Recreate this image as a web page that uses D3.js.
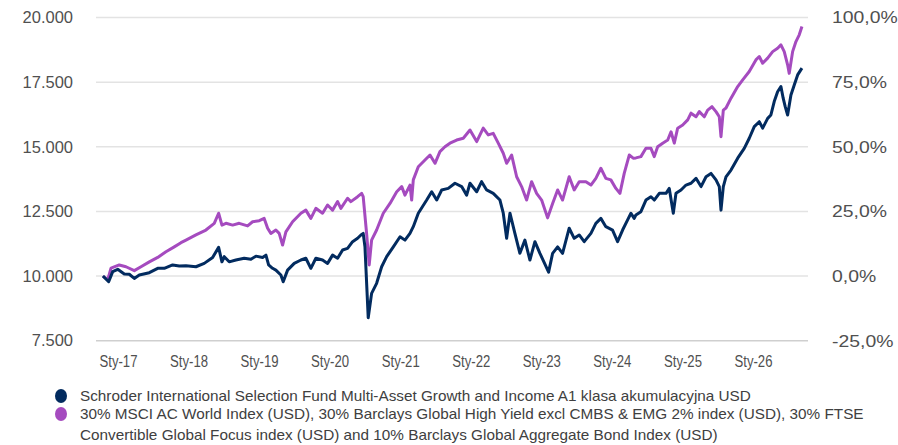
<!DOCTYPE html>
<html><head><meta charset="utf-8">
<script src="https://cdn.jsdelivr.net/npm/d3@7"></script>
<style>
html,body{margin:0;padding:0;background:#fff;}
svg{display:block;font-family:"Liberation Sans",Arial,sans-serif;}
</style></head>
<body><svg id="c" width="898" height="445"></svg>
<script>
// ---- data (decimal years, index values in USD, start = 10 000) ----
const fundT = [2016.787,2016.868,2016.925,2016.996,2017.089,2017.160,2017.231,2017.302,2017.444,2017.563,2017.656,2017.775,2017.869,2017.964,
2018.105,2018.223,2018.342,2018.427,2018.474,2018.507,2018.577,2018.672,2018.790,2018.885,2018.956,
2019.051,2019.098,2019.136,2019.192,2019.239,2019.310,2019.343,2019.405,2019.499,2019.594,2019.664,2019.735,2019.806,2019.901,2019.972,
2020.043,2020.114,2020.185,2020.255,2020.326,2020.397,2020.444,2020.476,2020.501,2020.547,2020.595,2020.666,2020.737,2020.808,2020.902,2020.997,
2021.067,2021.138,2021.185,2021.256,2021.375,2021.446,2021.517,2021.588,2021.681,2021.776,2021.871,2021.942,2021.989,
2022.084,2022.154,2022.225,2022.319,2022.414,2022.461,2022.509,2022.556,2022.626,2022.697,2022.768,2022.839,2022.910,2022.981,
2023.104,2023.161,2023.232,2023.302,2023.396,2023.467,2023.538,2023.609,2023.704,2023.774,2023.845,2023.916,
2024.011,2024.082,2024.153,2024.224,2024.271,2024.317,2024.341,2024.412,2024.483,2024.554,2024.601,2024.672,2024.767,2024.813,2024.870,2024.908,2024.979,
2025.050,2025.121,2025.192,2025.263,2025.334,2025.404,2025.475,2025.522,2025.546,2025.579,2025.617,2025.688,2025.783,2025.876,2025.947,
2026.018,2026.089,2026.137,2026.208,2026.254,2026.301,2026.349,2026.396,2026.428,2026.457,2026.491,2026.538,2026.585,2026.633,2026.694];
const fundV = [10000,9780,10170,10260,10080,10070,9910,10040,10130,10300,10300,10430,10390,10400,
10360,10490,10720,11110,10550,10750,10550,10620,10690,10650,10770,
10720,10810,10430,10300,10230,10040,9780,10230,10490,10620,10690,10300,10690,10620,10490,
10810,10690,11010,11070,11330,11460,11590,11650,11130,8390,9330,9720,10360,10750,11130,11520,
11390,11650,11910,12430,12940,13260,12940,13330,13390,13590,13460,13130,13590,
13260,13650,13330,13200,12940,12430,11460,12430,11650,10880,11390,10620,11330,10880,
10150,10880,11130,10880,11850,11460,11590,11330,11650,12040,12230,11910,
11780,11330,11780,12170,12430,12230,12360,12490,12940,13070,12940,13200,13200,13390,12430,13200,13330,
13520,13590,13780,13460,13840,13970,13720,13460,12550,13460,13840,14100,14560,14940,15330,
15780,15970,15720,16100,16230,16750,17130,17330,16880,16550,16230,17000,17390,17780,18040];

const benchT = [2016.787,2016.854,2016.901,2017.018,2017.113,2017.231,2017.326,2017.444,2017.563,2017.680,2017.798,2017.893,2017.964,
2018.105,2018.247,2018.365,2018.427,2018.474,2018.531,2018.626,2018.719,2018.838,2018.909,
2019.003,2019.073,2019.122,2019.168,2019.239,2019.286,2019.334,2019.381,2019.476,2019.594,2019.664,2019.735,2019.806,2019.901,2019.972,
2020.043,2020.114,2020.160,2020.255,2020.302,2020.397,2020.454,2020.476,2020.524,2020.561,2020.595,2020.666,2020.760,2020.855,2020.950,
2021.021,2021.067,2021.138,2021.162,2021.185,2021.256,2021.351,2021.422,2021.493,2021.563,2021.634,2021.705,2021.800,2021.894,2021.989,
2022.084,2022.177,2022.248,2022.319,2022.390,2022.461,2022.509,2022.580,2022.651,2022.721,2022.792,2022.863,2022.934,
2023.005,2023.090,2023.161,2023.232,2023.302,2023.396,2023.467,2023.538,2023.633,2023.704,2023.774,2023.845,2023.916,2023.987,
2024.058,2024.115,2024.176,2024.247,2024.303,2024.341,2024.412,2024.483,2024.554,2024.601,2024.649,2024.720,2024.791,2024.838,2024.884,2024.932,
2025.003,2025.074,2025.121,2025.192,2025.238,2025.309,2025.357,2025.418,2025.475,2025.522,2025.546,2025.579,2025.617,2025.688,2025.783,2025.854,2025.947,
2026.041,2026.089,2026.137,2026.208,2026.279,2026.349,2026.396,2026.443,2026.491,2026.514,2026.562,2026.609,2026.656,2026.694];
const benchV = [10000,9850,10310,10430,10360,10210,10360,10550,10720,10940,11130,11290,11390,
11590,11780,12040,12430,11970,12040,11970,12040,11940,12100,
12140,12230,11850,11650,11780,11650,11200,11710,12100,12430,12550,12230,12620,12430,12750,
12550,12880,12620,13010,12880,13070,13200,13070,11650,10430,11390,11780,12430,12810,13260,
13460,13130,13520,12940,13720,14230,14490,14680,14360,14810,15000,15140,15260,15330,15650,
15200,15720,15460,15520,15140,14750,14360,14680,13840,13460,12940,13650,13200,
12940,12250,12810,13330,12940,13840,13330,13650,13650,13520,13780,14170,13780,13720,
13390,13200,13970,14680,14560,14570,14620,14940,14940,14620,15000,15140,15260,15580,15140,15720,
15840,16040,16300,16160,16360,16160,16420,16550,16360,16160,15390,16420,16500,16880,17330,17590,17910,
18360,18490,18230,18430,18680,18810,18940,18680,18170,17840,18680,19070,19330,19650];

const leftTicks = [7500, 10000, 12500, 15000, 17500, 20000];
const rightTicks = [-25, 0, 25, 50, 75, 100];
const xTickYears = [2017, 2018, 2019, 2020, 2021, 2022, 2023, 2024, 2025, 2026];
const seriesNames = [
  ["Schroder International Selection Fund Multi-Asset Growth and Income A1 klasa akumulacyjna USD"],
  ["30% MSCI AC World Index (USD), 30% Barclays Global High Yield excl CMBS & EMG 2% index (USD), 30% FTSE",
   "Convertible Global Focus index (USD) and 10% Barclays Global Aggregate Bond Index (USD)"]
];
const colors = ["#022b5f", "#a54bbf"];

// ---- helpers ----
const toDate = t => { const y = Math.floor(t); const a = Date.UTC(y,0,1), b = Date.UTC(y+1,0,1); return new Date(a + (t - y) * (b - a)); };
const pl = d3.formatLocale({decimal: ",", thousands: ".", grouping: [3], currency: ["", ""], minus: "-"});
const fmtLeft = pl.format(",.0f");
const fmtRight = v => pl.format(".1f")(v) + "%";
const stretch = (sel, k) => sel.each(function() {
  const w = this.getComputedTextLength();
  d3.select(this).attr("textLength", w * k).attr("lengthAdjust", "spacingAndGlyphs");
});

const svg = d3.select("#c");
const gridX0 = 96, gridX1 = 808;
const FONT = "Liberation Sans, Arial, sans-serif";
const TXT = "#505050";

const x = d3.scaleUtc().domain([toDate(2017), toDate(2026)]).range([118, 753]);
const y = d3.scaleLinear().domain([7500, 20000]).range([340.7, 17.5]);
const yR = d3.scaleLinear().domain([-25, 100]).range([340.7, 17.5]);

// gridlines
svg.append("g").selectAll("line").data(leftTicks).join("line")
  .attr("x1", gridX0).attr("x2", gridX1)
  .attr("y1", d => y(d)).attr("y2", d => y(d))
  .attr("stroke", (d,i) => i === 0 ? "#cfcfcf" : "#e3e3e3").attr("stroke-width", 1.5);

// left axis
const la = svg.append("g").attr("transform", "translate(73,0)")
  .call(d3.axisLeft(y).tickValues(leftTicks).tickFormat(fmtLeft).tickSize(0).tickPadding(0));
la.select(".domain").remove();
la.selectAll("text").attr("font-size", 16.5).attr("fill", TXT).attr("font-family", FONT);

// right axis
const ra = svg.append("g").attr("transform", "translate(832,0)")
  .call(d3.axisRight(yR).tickValues(rightTicks).tickFormat(fmtRight).tickSize(0).tickPadding(0));
ra.select(".domain").remove();
ra.selectAll("text").attr("font-size", 17).attr("fill", TXT).attr("font-family", FONT).call(stretch, 1.14);

// x axis
const xa = svg.append("g").attr("transform", "translate(0,356)")
  .call(d3.axisBottom(x).tickValues(xTickYears.map(toDate))
    .tickFormat(d => "Sty-" + String(d.getUTCFullYear()).slice(2)).tickSize(0).tickPadding(0));
xa.select(".domain").remove();
xa.selectAll("text").attr("font-size", 16).attr("fill", TXT).attr("font-family", FONT).call(stretch, 0.82);

// lines
const line = d3.line().x(d => x(d[0])).y(d => y(d[1])).curve(d3.curveLinear);
const fundData = fundT.map((t,i) => [toDate(t), fundV[i]]);
const benchData = benchT.map((t,i) => [toDate(t), benchV[i]]);
svg.append("path").datum(benchData).attr("d", line).attr("fill", "none")
  .attr("stroke", colors[1]).attr("stroke-width", 3).attr("stroke-linejoin", "round");
svg.append("path").datum(fundData).attr("d", line).attr("fill", "none")
  .attr("stroke", colors[0]).attr("stroke-width", 3).attr("stroke-linejoin", "round");

// legend
const lg = svg.append("g");
const legendRows = [396, 414];
seriesNames.forEach((lines, i) => {
  lg.append("ellipse").attr("cx", 61).attr("cy", legendRows[i]).attr("rx", 6).attr("ry", 7).attr("fill", colors[i]);
  lines.forEach((s, j) => {
    lg.append("text").attr("x", 80).attr("y", legendRows[i] + j * 20.5).attr("dy", "0.35em")
      .attr("font-size", 14.5).attr("fill", "#404040").attr("font-family", FONT).text(s)
      .call(stretch, 1.055);
  });
});
</script></body></html>
